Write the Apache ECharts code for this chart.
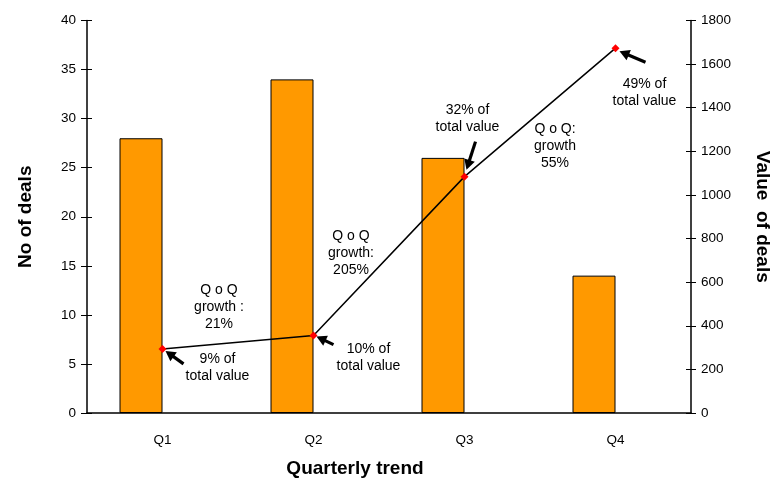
<!DOCTYPE html>
<html><head><meta charset="utf-8">
<script src="https://cdn.jsdelivr.net/npm/echarts@6/dist/echarts.min.js"></script>
<style>html,body{margin:0;padding:0;background:#fff}#c{width:773px;height:480px}</style>
</head><body><div id="c"></div>
<script>
const categories = ['Q1', 'Q2', 'Q3', 'Q4'];
const dealCounts = [28, 34, 26, 14];
const dealValues = [294, 355, 1084, 1673];
const leftTicks = [0, 40, 5];
const rightTicks = [0, 1800, 200];
const shareLabels = ['9% of\ntotal value', '10% of\ntotal value', '32% of\ntotal value', '49% of\ntotal value'];
const growthLabels = ['Q o Q\ngrowth :\n21%', 'Q o Q\ngrowth:\n205%', 'Q o Q:\ngrowth\n55%'];

const FONT = 'Liberation Sans, Arial, sans-serif';
const chart = echarts.init(document.getElementById('c'), null, {renderer: 'canvas'});

const tickStyle = {color: '#000', width: 1};
const lblStyle = {color: '#000', fontSize: 13.5, fontFamily: FONT};
const nameStyle = {fontSize: 19, fontWeight: 'bold', color: '#000', fontFamily: FONT};

chart.setOption({
  animation: false,
  backgroundColor: '#fff',
  textStyle: {fontFamily: FONT, color: '#000'},
  grid: {left: 87, right: 82, top: 20.5, bottom: 67, outerBoundsMode: 'none', containLabel: false},
  xAxis: [{
    type: 'category', data: categories, boundaryGap: true, position: 'bottom',
    axisLine: {lineStyle: {color: '#000', width: 1.5}},
    axisTick: {length: 5, lineStyle: tickStyle},
    axisLabel: Object.assign({margin: 20}, lblStyle)
  }, {
    type: 'category', data: categories, boundaryGap: true, position: 'bottom',
    axisLine: {show: false},
    axisTick: {inside: true, length: 4, lineStyle: tickStyle},
    axisLabel: {show: false}
  }],
  yAxis: [{
    type: 'value', min: leftTicks[0], max: leftTicks[1], interval: leftTicks[2],
    name: 'No of deals', nameLocation: 'middle', nameGap: 52, nameTextStyle: nameStyle,
    axisLine: {show: true, lineStyle: {color: '#000', width: 1.5}},
    axisTick: {show: true, length: 6, lineStyle: tickStyle},
    axisLabel: Object.assign({margin: 11}, lblStyle),
    splitLine: {show: false}
  }, {
    type: 'value', min: rightTicks[0], max: rightTicks[1], interval: rightTicks[2],
    position: 'right',
    name: 'Value  of deals', nameLocation: 'middle', nameGap: 62, nameRotate: -90, nameTextStyle: nameStyle,
    axisLine: {show: true, lineStyle: {color: '#000', width: 1.5}},
    axisTick: {show: true, length: 5, lineStyle: tickStyle},
    axisLabel: Object.assign({margin: 10, formatter: v => String(v)}, lblStyle),
    splitLine: {show: false}
  }, {
    type: 'value', min: leftTicks[0], max: leftTicks[1], interval: leftTicks[2], position: 'left',
    axisLine: {show: false}, axisTick: {show: true, inside: true, length: 5, lineStyle: tickStyle},
    axisLabel: {show: false}, splitLine: {show: false}
  }, {
    type: 'value', min: rightTicks[0], max: rightTicks[1], interval: rightTicks[2], position: 'right',
    axisLine: {show: false}, axisTick: {show: true, inside: true, length: 5, lineStyle: tickStyle},
    axisLabel: {show: false}, splitLine: {show: false}
  }],
  series: [{
    type: 'bar', data: dealCounts, barWidth: 43, barGap: '0%',
    itemStyle: {color: '#FF9900', borderColor: '#000', borderWidth: 1}
  }, {
    type: 'bar', data: dealCounts.map(() => '-'), barWidth: 43
  }, {
    type: 'line', yAxisIndex: 1, data: dealValues, z: 5,
    symbol: 'diamond', symbolSize: 8,
    itemStyle: {color: '#FF0000'},
    lineStyle: {color: '#000', width: 1.5}
  }]
});

// annotations placed relative to the data points (via convertToPixel)
const pts = dealValues.map((v, i) => chart.convertToPixel({seriesIndex: 2}, [i, v]));
const shareOffsets = [[55, 19], [55, 22], [3, -58], [29, 44]];
const arrowTail = [[21, 15], [20, 9], [11, -35], [30, 14]];
const arrowHead = [[3, 2], [3, 1], [2, -7], [4, 3]];
const growthOffsets = [[-19, -35], [-38, -3], [15, 34]];

const mkText = (t, x, y) => ({
  type: 'text', z: 10,
  style: {text: t, x: x, y: y, textAlign: 'center', textVerticalAlign: 'middle',
    font: '14px ' + FONT, fill: '#000', lineHeight: 17}
});
const els = [];
pts.forEach((p, i) => {
  els.push(mkText(shareLabels[i], p[0] + shareOffsets[i][0], p[1] + shareOffsets[i][1]));
  const tx = p[0] + arrowTail[i][0], ty = p[1] + arrowTail[i][1];
  const hx = p[0] + arrowHead[i][0], hy = p[1] + arrowHead[i][1];
  const dx = hx - tx, dy = hy - ty, L = Math.hypot(dx, dy);
  const ux = dx / L, uy = dy / L, nx = -uy, ny = ux;
  const hl = 10, hw = 5.5;
  const bx = hx - ux * hl, by = hy - uy * hl;
  els.push({type: 'line', z: 10, shape: {x1: tx, y1: ty, x2: bx + ux, y2: by + uy},
    style: {stroke: '#000', lineWidth: 3.2}});
  els.push({type: 'polygon', z: 10, shape: {points: [[hx, hy], [bx + nx * hw, by + ny * hw], [bx - nx * hw, by - ny * hw]]},
    style: {fill: '#000'}});
});
for (let i = 0; i < growthLabels.length; i++) {
  const mx = (pts[i][0] + pts[i + 1][0]) / 2, my = (pts[i][1] + pts[i + 1][1]) / 2;
  els.push(mkText(growthLabels[i], mx + growthOffsets[i][0], my + growthOffsets[i][1]));
}
els.push({type: 'text', z: 10, style: {text: 'Quarterly trend', x: 355, y: 469, textAlign: 'center',
  textVerticalAlign: 'middle', font: 'bold 19px ' + FONT, fill: '#000'}});
chart.setOption({graphic: els});
</script>
</body></html>
